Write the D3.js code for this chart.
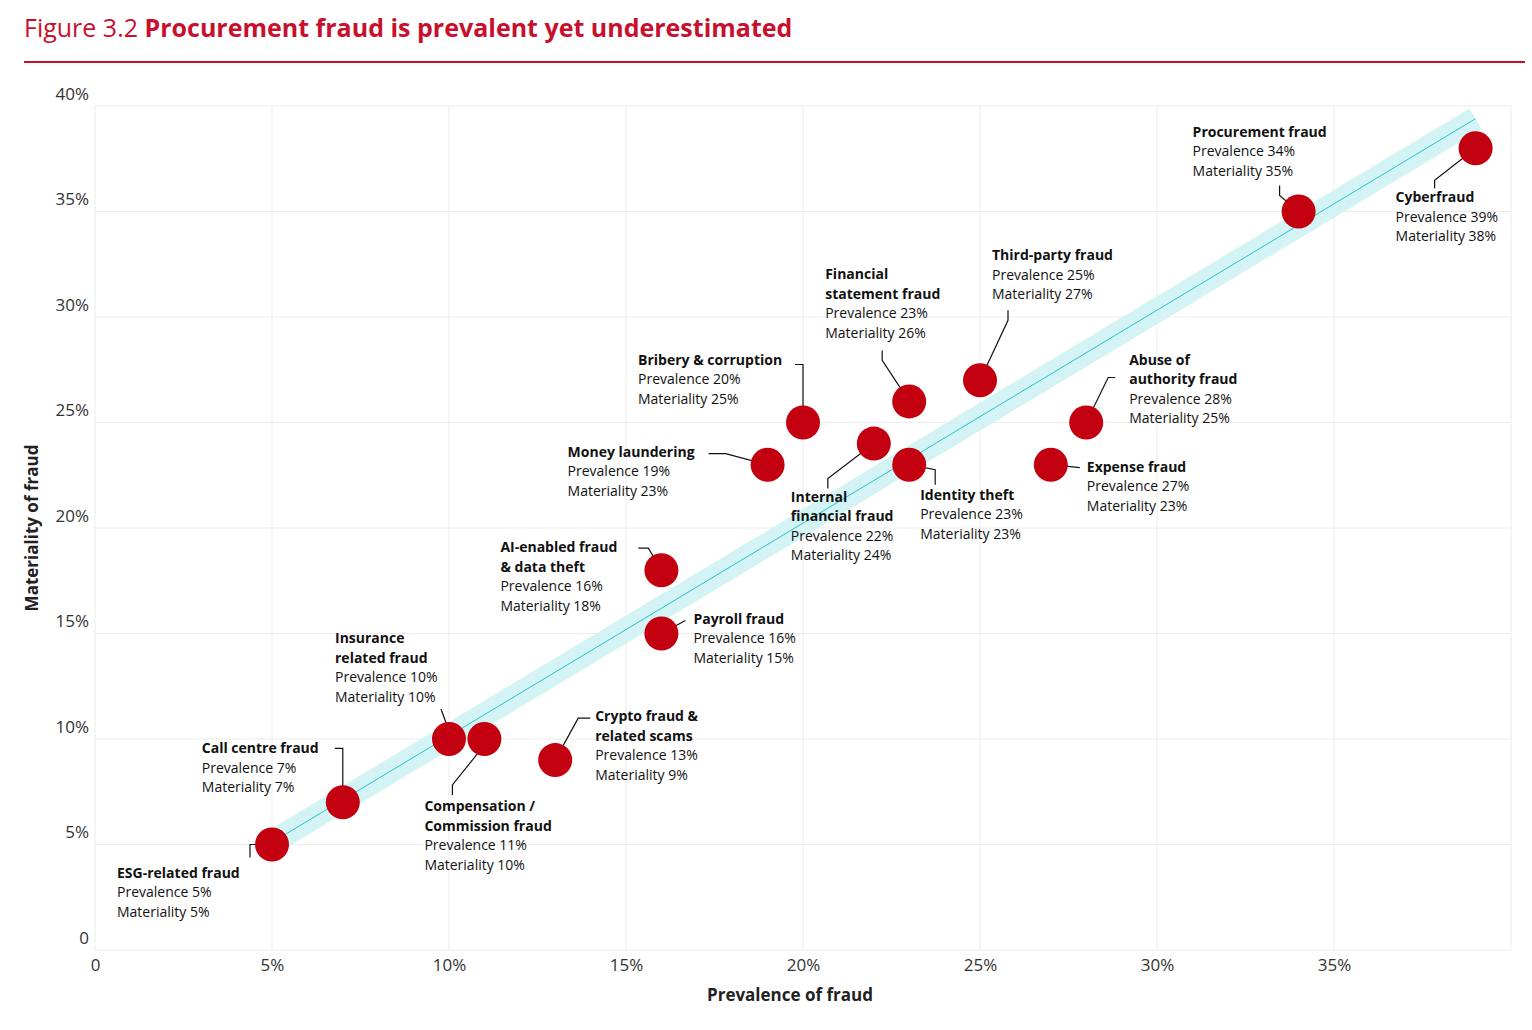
<!DOCTYPE html>
<html>
<head>
<meta charset="utf-8">
<script src="https://cdn.jsdelivr.net/npm/d3@7"></script>
<style>
  body { margin: 0; background: #fff; font-family: "Open Sans", sans-serif; }
</style>
</head>
<body>
<script>
//Set up dimensions
    const width = 1532;
    const height = 1030;

//Data: prevalence, materiality, label block offset (lx, ly), leader points relative to dot
    const data = [
        {name: ["ESG-related fraud"], p: 5, m: 5, lx: -155, ly: 33, lead: [[0,0],[-22,0],[-22,13]]},
        {name: ["Call centre fraud"], p: 7, m: 7, lx: -141, ly: -49, lead: [[0,0],[0,-54],[-8,-54]]},
        {name: ["Insurance", "related fraud"], p: 10, m: 10, lx: -114, ly: -96, lead: [[0,-8],[-8,-30]]},
        {name: ["Compensation /", "Commission fraud"], p: 11, m: 10, lx: -60, ly: 72, lead: [[0,6],[-32,46],[-32,56]]},
        {name: ["Crypto fraud &", "related scams"], p: 13, m: 9, lx: 40, ly: -39, lead: [[0,0],[23,-42],[35,-42]]},
        {name: ["Payroll fraud"], p: 16, m: 15, lx: 32, ly: -10, lead: [[0,0],[24,-13]]},
        {name: ["AI-enabled fraud", "& data theft"], p: 16, m: 18, lx: -161, ly: -18, lead: [[0,0],[-13,-22],[-23,-22]]},
        {name: ["Money laundering"], p: 19, m: 23, lx: -200, ly: -8, lead: [[0,0],[-42,-11],[-59,-11]]},
        {name: ["Bribery & corruption"], p: 20, m: 25, lx: -165, ly: -58, lead: [[0,0],[0,-58],[-8,-58]]},
        {name: ["Internal", "financial fraud"], p: 22, m: 24, lx: -83, ly: 58, lead: [[0,0],[-46,35],[-46,45]]},
        {name: ["Financial", "statement fraud"], p: 23, m: 26, lx: -84, ly: -122, lead: [[0,0],[-27,-41],[-27,-51]]},
        {name: ["Identity theft"], p: 23, m: 23, lx: 11, ly: 35, lead: [[0,0],[26,5],[26,20]]},
        {name: ["Third-party fraud"], p: 25, m: 27, lx: 12, ly: -120, lead: [[0,0],[28,-60],[28,-70]]},
        {name: ["Abuse of", "authority fraud"], p: 28, m: 25, lx: 43, ly: -58, lead: [[0,0],[22,-45],[29,-45]]},
        {name: ["Expense fraud"], p: 27, m: 23, lx: 36, ly: 7, lead: [[0,0],[29,3]]},
        {name: ["Procurement fraud"], p: 34, m: 35, lx: -106, ly: -75, lead: [[0,0],[-19,-16],[-19,-26]]},
        {name: ["Cyberfraud"], p: 39, m: 38, lx: -80, ly: 54, lead: [[0,0],[-41,32],[-41,40]]}
    ];

//Set up scales
    const xScale = d3.scaleLinear().domain([0, 40]).range([95, 1511]);
    const yScale = d3.scaleLinear().domain([0, 40]).range([950, 106]);

//Make the SVG
    const svg = d3.select("body").append("svg")
                .attr("width", width).attr("height", height);

//Title
    const title = svg.append("text").attr("x", 24).attr("y", 37)
        .attr("font-size", 25).attr("fill", "#c8102e");
    title.append("tspan").text("Figure 3.2 ");
    title.append("tspan").attr("font-weight", "bold").text("Procurement fraud is prevalent yet underestimated");
    svg.append("line").attr("x1", 24).attr("x2", 1525).attr("y1", 62).attr("y2", 62)
        .attr("stroke", "#c8102e").attr("stroke-width", 2);

//Gridlines
    const ticks = d3.range(0, 41, 5);
    svg.append("g").selectAll("line").data(ticks).enter().append("line")
        .attr("x1", d => xScale(d)).attr("x2", d => xScale(d))
        .attr("y1", yScale(40)).attr("y2", yScale(0))
        .attr("stroke", "#ececec");
    svg.append("g").selectAll("line").data(ticks).enter().append("line")
        .attr("x1", xScale(0)).attr("x2", xScale(40))
        .attr("y1", d => yScale(d)).attr("y2", d => yScale(d))
        .attr("stroke", "#ececec");

//Axes
    const fmt = d => d === 0 ? "0" : d + "%";
    const bottomAxis = d3.axisBottom(xScale).tickValues(d3.range(0, 36, 5)).tickFormat(fmt).tickSize(0).tickPadding(9);
    const leftAxis = d3.axisLeft(yScale).tickValues(ticks).tickFormat(fmt).tickSize(0).tickPadding(0);
    svg.append("g").attr("transform", "translate(0,950)").call(bottomAxis)
        .call(g => g.select(".domain").remove())
        .selectAll("text").attr("font-size", 17).attr("fill", "#333").attr("font-family", "Open Sans");
    svg.append("g").attr("transform", "translate(89,-12)").call(leftAxis)
        .call(g => g.select(".domain").remove())
        .selectAll("text").attr("font-size", 17).attr("fill", "#333").attr("font-family", "Open Sans");

    svg.append("text").attr("x", 790).attr("y", 1001)
        .attr("text-anchor", "middle").attr("font-weight", "bold").attr("font-size", 17)
        .attr("fill", "#222").text("Prevalence of fraud");
    svg.append("text").attr("transform", "translate(38,528) rotate(-90)")
        .attr("text-anchor", "middle").attr("font-weight", "bold").attr("font-size", 17)
        .attr("fill", "#222").text("Materiality of fraud");

//Trend band and line
    svg.append("line").attr("x1", xScale(5)).attr("y1", yScale(5.1)).attr("x2", xScale(39)).attr("y2", yScale(39.4))
        .attr("stroke", "#d3f3f5").attr("stroke-width", 24);
    svg.append("line").attr("x1", xScale(5)).attr("y1", yScale(5.1)).attr("x2", xScale(39)).attr("y2", yScale(39.4))
        .attr("stroke", "#2cc3cc").attr("stroke-width", 1);

//Leader lines
    svg.append("g").selectAll("polyline").data(data).enter().append("polyline")
        .attr("points", d => d.lead.map(q => [xScale(d.p) + q[0], yScale(d.m) + q[1]].join(",")).join(" "))
        .attr("fill", "none").attr("stroke", "#111").attr("stroke-width", 1.2);

//Dots
    svg.append("g").selectAll("circle").data(data).enter().append("circle")
        .attr("cx", d => xScale(d.p)).attr("cy", d => yScale(d.m)).attr("r", 17)
        .attr("fill", "#c30010");

//Labels
    const labels = svg.append("g").selectAll("text").data(data).enter().append("text")
        .attr("x", d => xScale(d.p) + d.lx).attr("y", d => yScale(d.m) + d.ly)
        .attr("font-size", 14).attr("fill", "#111");
    labels.each(function(d) {
        const t = d3.select(this);
        const x = xScale(d.p) + d.lx;
        d.name.forEach((n, i) => {
            t.append("tspan").attr("x", x).attr("dy", i === 0 ? 0 : 19.5).attr("font-weight", "bold").text(n);
        });
        t.append("tspan").attr("x", x).attr("dy", 19.5).text("Prevalence " + d.p + "%");
        t.append("tspan").attr("x", x).attr("dy", 19.5).text("Materiality " + d.m + "%");
    });
</script>
</body>
</html>
